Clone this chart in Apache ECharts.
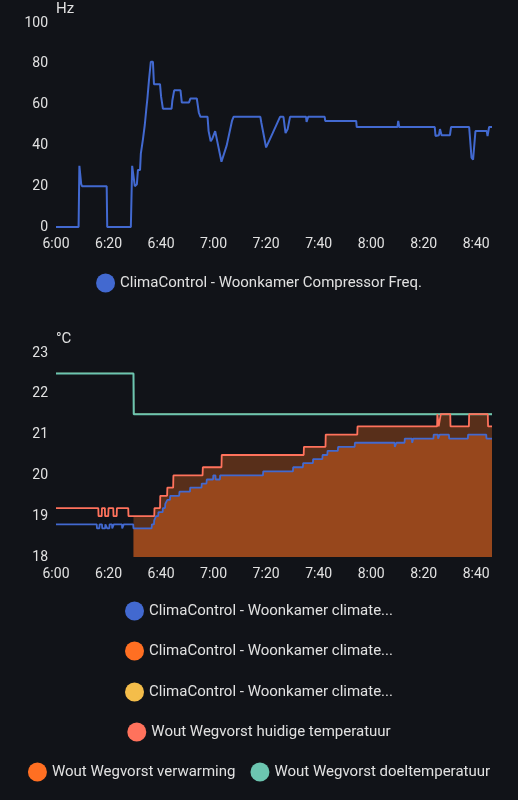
<!DOCTYPE html>
<html>
<head>
<meta charset="utf-8">
<script src="https://cdn.jsdelivr.net/npm/echarts@6/dist/echarts.min.js"></script>
<style>
html,body{margin:0;padding:0;background:#111318;}
#c{width:518px;height:800px;}
</style>
</head>
<body>
<div id="c"></div>
<script>
// ---- tick labels (minutes after 6:00, every 20 min) ----
const xTickLabels = ['6:00','6:20','6:40','7:00','7:20','7:40','8:00','8:20','8:40'];
const xMax = 166;

// ---- Compressor frequency (Hz) ----
const freqMinutes = [0,8.6,8.9,9.4,9.6,9.9,14,19.3,19.5,28.5,29.0,29.6,30.0,30.8,31.2,32.0,32.3,32.9,33.1,33.6,33.8,34.2,34.4,34.8,35.4,36.1,36.9,37.3,39.6,40.0,40.7,44.0,44.3,45.0,47.4,47.9,50.6,51.2,53.6,54.4,55.0,57.7,58.1,58.9,59.4,60.6,61.2,63.0,65.0,67.0,67.6,77.8,78.2,80.0,82.5,85.3,86.6,87.4,88.2,89.1,95.2,95.4,96.0,102.3,102.5,114.3,114.5,130.0,130.3,130.7,144.2,144.5,145.8,146.2,146.8,150.0,150.4,157.3,158.2,158.8,159.4,159.7,164.0,164.3,164.7,164.9,166.0];
const freqValues  = [0,0,30,30,21,20,20,20,0,0,30,30,20,21,28,28,36,36,43,43,50,50,58,63,72,81,81,70,70,64,58,58,62,67,67,61,61,63,63,56,54,54,47,42,43,47,47,32,40,52,54,54,51,39,46,54,54,46,48,54,54,51.5,54,54,52,52,49,49,52,49,49,44.6,45,48,45,45,49,49,34,33,33,47,47,44.6,44.6,49,49];

// ---- ClimaControl current temperature (°C) ----
const climaTempMinutes = [0,15.5,15.6,16.5,16.6,17.5,17.6,18.7,18.8,19.4,19.5,20.3,20.4,21.3,21.4,21.9,22.0,25.1,25.2,25.7,25.8,29.4,29.5,36.4,36.5,37.3,37.4,38.0,38.1,38.9,39.0,40.6,40.7,41.5,41.6,42.3,42.4,43.4,43.5,46.9,47.0,51.0,51.1,55.4,55.5,57.3,57.4,59.8,59.9,60.7,60.8,62.4,62.5,78.8,78.9,90.2,90.3,94.0,94.1,97.8,97.9,101.4,101.5,103.3,103.4,107.3,107.4,113.7,113.8,128.9,129.0,129.5,129.6,132.7,132.8,135.5,135.6,135.9,136.0,143.7,143.8,145.4,145.5,146.0,146.1,149.6,149.7,156.8,156.9,163.8,163.9,166];
const climaTempValues  = [18.8,18.8,18.7,18.7,18.8,18.8,18.7,18.7,18.8,18.8,18.7,18.7,18.8,18.8,18.7,18.7,18.8,18.8,18.7,18.7,18.8,18.8,18.7,18.7,18.8,18.8,18.9,18.9,19.0,19.0,19.1,19.1,19.2,19.2,19.3,19.3,19.4,19.4,19.5,19.5,19.6,19.6,19.7,19.7,19.8,19.8,19.9,19.9,20.0,20.0,19.9,19.9,20.0,20.0,20.1,20.1,20.2,20.2,20.3,20.3,20.4,20.4,20.5,20.5,20.6,20.6,20.7,20.7,20.8,20.8,20.7,20.7,20.8,20.8,20.9,20.9,20.8,20.8,20.9,20.9,21.0,21.0,20.9,20.9,21.0,21.0,20.9,20.9,21.0,21.0,20.9,20.9];

// ---- Wout Wegvorst current temperature (°C) ----
const woutTempMinutes = [0,16.1,16.2,17.4,17.5,18.6,18.7,19.9,20.0,21.8,21.9,23.1,23.2,27.5,27.6,37.4,37.5,39.6,39.7,42.3,42.4,44.6,44.7,55.8,55.9,63.0,63.1,94.3,94.4,102.6,102.7,114.7,114.8,145.1,145.2,145.6,145.7,146.4,146.5,150.1,150.2,157.2,157.3,164.4,164.5,166];
const woutTempValues  = [19.2,19.2,19.0,19.0,19.2,19.2,19.0,19.0,19.2,19.2,19.0,19.0,19.2,19.2,19.0,19.0,19.2,19.2,19.5,19.5,19.7,19.7,20.0,20.0,20.2,20.2,20.5,20.5,20.7,20.7,21.0,21.0,21.2,21.2,21.5,21.5,21.2,21.2,21.5,21.5,21.2,21.2,21.5,21.5,21.2,21.2];

// ---- target temperature (°C), both thermostats ----
const targetMinutes = [0,29.5,29.6,166];
const targetValues  = [22.5,22.5,21.5,21.5];

// heating active from this minute on (both thermostats)
const heatingFromMinute = 29.5;

// ---- names ----
const nFreq = 'ClimaControl - Woonkamer Compressor Freq.';
const nClimaCur = 'ClimaControl - Woonkamer climate huidige temperatuur';
const nClimaHeat = 'ClimaControl - Woonkamer climate verwarming';
const nClimaTarget = 'ClimaControl - Woonkamer climate doeltemperatuur';
const nWoutCur = 'Wout Wegvorst huidige temperatuur';
const nWoutHeat = 'Wout Wegvorst verwarming';
const nWoutTarget = 'Wout Wegvorst doeltemperatuur';
const legendLabels = {};
legendLabels[nClimaCur] = 'ClimaControl - Woonkamer climate...';
legendLabels[nClimaHeat] = 'ClimaControl - Woonkamer climate...';
legendLabels[nClimaTarget] = 'ClimaControl - Woonkamer climate...';

// ---- colours ----
const cBlue = '#4269d0', cOrange = '#ff6f22', cYellow = '#f4bd4a', cRed = '#ff725c', cTeal = '#6cc5b0';

function pairs(xs, ys) { return xs.map((x, i) => [x, ys[i]]); }
function heatingPart(xs, ys, from) {
  let startVal = ys[0];
  for (let i = 0; i < xs.length; i++) if (xs[i] <= from) startVal = ys[i];
  const out = [[from, startVal]];
  for (let i = 0; i < xs.length; i++) if (xs[i] > from) out.push([xs[i], ys[i]]);
  return out;
}

const txt = '#e1e1e1';
const font = 'Roboto';
function xAxisCfg(idx) {
  return {
    type: 'value', gridIndex: idx, min: 0, max: xMax, interval: 20,
    axisLine: {show: false}, axisTick: {show: false}, splitLine: {show: false},
    axisLabel: {color: txt, fontSize: 14, fontFamily: font, margin: 10,
      formatter: v => (v % 20 === 0 && xTickLabels[v / 20] !== undefined) ? xTickLabels[v / 20] : ''}
  };
}
function yAxisCfg(idx, min, max, interval, name) {
  return {
    type: 'value', gridIndex: idx, min: min, max: max, interval: interval,
    name: name, nameLocation: 'end', nameGap: 6,
    nameTextStyle: {color: txt, fontSize: 15, fontFamily: font, align: 'left', padding: [0, 0, 0, 0]},
    axisLine: {show: false}, axisTick: {show: false}, splitLine: {show: false},
    axisLabel: {color: txt, fontSize: 14, fontFamily: font, margin: 8}
  };
}
function legendCfg(top, names, gap) {
  return {
    top: top, left: 'center', padding: 0, data: names, itemWidth: 19, itemHeight: 19, itemGap: gap || 15,
    icon: 'circle', selectedMode: false,
    textStyle: {color: txt, fontSize: 15, fontFamily: font},
    formatter: n => legendLabels[n] || n
  };
}
function lineSeries(name, data, color, xi, width, z) {
  return {
    name: name, type: 'line', xAxisIndex: xi, yAxisIndex: xi, data: data,
    showSymbol: false, symbol: 'none', smooth: false, z: z,
    lineStyle: {color: color, width: width}, itemStyle: {color: color}
  };
}
function areaSeries(name, data, color, alphaColor, xi, z) {
  return {
    name: name, type: 'line', xAxisIndex: xi, yAxisIndex: xi, data: data,
    showSymbol: false, symbol: 'none', z: z,
    lineStyle: {width: 0, opacity: 0}, itemStyle: {color: color},
    areaStyle: {color: alphaColor, opacity: 1, origin: 'start'}
  };
}

const chart = echarts.init(document.getElementById('c'), null, {renderer: 'canvas'});
chart.setOption({
  backgroundColor: '#111318',
  animation: false,
  grid: [
    {left: 56, top: 23, width: 436, height: 204},
    {left: 56, top: 353, width: 436, height: 204}
  ],
  xAxis: [xAxisCfg(0), xAxisCfg(1)],
  yAxis: [yAxisCfg(0, 0, 100, 20, 'Hz'), yAxisCfg(1, 18, 23, 1, '°C')],
  legend: [
    legendCfg(273.5, [nFreq]),
    legendCfg(601.5, [nClimaCur]),
    legendCfg(641.5, [nClimaHeat]),
    legendCfg(682.5, [nClimaTarget]),
    legendCfg(722.5, [nWoutCur]),
    legendCfg(762.5, [nWoutHeat, nWoutTarget], 15)
  ],
  series: [
    lineSeries(nFreq, pairs(freqMinutes, freqValues), cBlue, 0, 2, 3),
    lineSeries(nClimaCur, pairs(climaTempMinutes, climaTempValues), cBlue, 1, 1.8, 6),
    areaSeries(nClimaHeat, heatingPart(climaTempMinutes, climaTempValues, heatingFromMinute), cOrange, 'rgba(255,111,34,0.38)', 1, 1),
    lineSeries(nClimaTarget, pairs(targetMinutes, targetValues), cYellow, 1, 1, 3),
    lineSeries(nWoutCur, pairs(woutTempMinutes, woutTempValues), cRed, 1, 1.8, 5),
    areaSeries(nWoutHeat, heatingPart(woutTempMinutes, woutTempValues, heatingFromMinute), cOrange, 'rgba(255,111,34,0.3)', 1, 2),
    lineSeries(nWoutTarget, pairs(targetMinutes, targetValues), cTeal, 1, 2, 4)
  ]
});
</script>
</body>
</html>
